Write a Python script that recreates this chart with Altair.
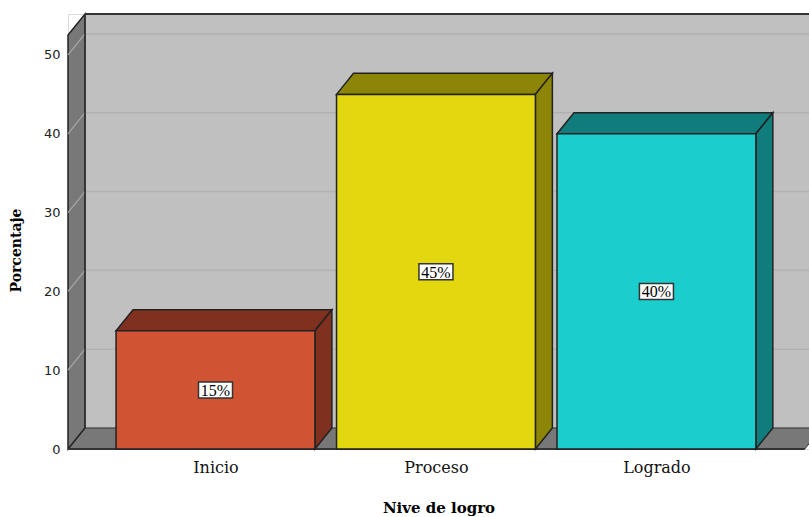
import altair as alt
import pandas as pd

# ---- data ----
categories = ["Inicio", "Proceso", "Logrado"]
values = [15, 45, 40]
labels = ["15%", "45%", "40%"]
front_colors = ["#D05434", "#E3D810", "#1CCDCD"]
side_colors = ["#80301F", "#8C8508", "#117C7C"]
y_ticks = [0, 10, 20, 30, 40, 50]

# ---- geometry (scale units) ----
X_MIN, X_MAX = -0.669, 2.692
Y_MAX = 55.2
HALF = 0.451
DX = 0.077
DY = 2.67
FLOOR_END = 2.673

xs = alt.Scale(domain=[X_MIN, X_MAX], nice=False, zero=False)
ys = alt.Scale(domain=[0, Y_MAX], nice=False, zero=False)

label_expr = "[" + ",".join("'" + c + "'" for c in categories) + "][datum.value]"
x_axis = alt.Axis(values=[0, 1, 2], labelExpr=label_expr, title="Nive de logro")
y_axis = alt.Axis(values=y_ticks, title="Porcentaje")

bars = pd.DataFrame({
    "cat": categories,
    "idx": list(range(len(categories))),
    "value": values,
    "label": labels,
    "front": front_colors,
    "dark": side_colors,
})
bars["x0"] = bars["idx"] - HALF
bars["x1"] = bars["idx"] + HALF
bars["mid"] = bars["value"] / 2

faces = []
for _, r in bars.iterrows():
    v = r["value"]
    x0, x1 = r["x0"], r["x1"]
    for (x, lo, hi) in [(x0, v, v), (x0 + DX, v, v + DY), (x1, v, v + DY), (x1 + DX, v + DY, v + DY)]:
        faces.append({"face": r["cat"] + "-top", "dark": r["dark"], "x": x, "lo": lo, "hi": hi})
    for (x, lo, hi) in [(x1, 0, v), (x1 + DX, DY, v + DY)]:
        faces.append({"face": r["cat"] + "-side", "dark": r["dark"], "x": x, "lo": lo, "hi": hi})
faces = pd.DataFrame(faces)

left_wall = pd.DataFrame({"x": [X_MIN, X_MIN + DX], "lo": [0, DY], "hi": [Y_MAX - DY, Y_MAX]})
floor = pd.DataFrame({"x": [X_MIN, X_MIN + DX, FLOOR_END, FLOOR_END + DX],
                      "lo": [0, 0, 0, DY], "hi": [0, DY, DY, DY]})
back = pd.DataFrame({"x": [X_MIN + DX], "x2": [X_MAX], "y": [DY], "y2": [Y_MAX]})

grid = pd.DataFrame({"t": y_ticks[1:]})
grid["tb"] = grid["t"] + DY
grid["xa"] = X_MIN
grid["xb"] = X_MIN + DX
grid["xe"] = X_MAX

edges_h = pd.DataFrame({"x": [X_MIN + DX, X_MIN], "x2": [X_MAX, FLOOR_END], "y": [Y_MAX, 0]})
edges_v = pd.DataFrame({"x": [X_MIN + DX], "y": [DY], "y2": [Y_MAX]})


def X(f):
    return alt.X(f, scale=xs, axis=x_axis)


def Y(f):
    return alt.Y(f, scale=ys, axis=y_axis, stack=None)


back_layer = alt.Chart(back).mark_rect(color="#C0C0C0").encode(
    x=X("x:Q"), x2="x2:Q", y=Y("y:Q"), y2="y2:Q",
)

back_grid = alt.Chart(grid).mark_rule(color="#B2B2B2", strokeWidth=1.5).encode(
    x=X("xb:Q"), x2="xe:Q", y=Y("tb:Q"),
)

floor_layer = alt.Chart(floor).mark_area(color="#787878", stroke="#333", strokeWidth=1,
                                         clip=True, interpolate="linear").encode(
    x=X("x:Q"), y=Y("lo:Q"), y2="hi:Q",
)

wall_layer = alt.Chart(left_wall).mark_area(color="#787878", stroke="#222", strokeWidth=1.5,
                                            interpolate="linear").encode(
    x=X("x:Q"), y=Y("lo:Q"), y2="hi:Q",
)

wall_grid = alt.Chart(grid).mark_rule(color="#A8A8A8", strokeWidth=1.2).encode(
    x=X("xa:Q"), x2="xb:Q", y=Y("t:Q"), y2="tb:Q",
)

edge_h = alt.Chart(edges_h).mark_rule(color="#333", strokeWidth=2).encode(
    x=X("x:Q"), x2="x2:Q", y=Y("y:Q"),
)
edge_v = alt.Chart(edges_v).mark_rule(color="#333", strokeWidth=1.5).encode(
    x=X("x:Q"), y=Y("y:Q"), y2="y2:Q",
)

face_layer = alt.Chart(faces).mark_area(strokeWidth=1.5, stroke="#222",
                                        interpolate="linear").encode(
    x=X("x:Q"), y=Y("lo:Q"), y2="hi:Q",
    color=alt.Color("dark:N", scale=None),
    detail="face:N",
)

front_layer = alt.Chart(bars).mark_rect(stroke="#222", strokeWidth=1.5).encode(
    x=X("x0:Q"), x2="x1:Q", y=Y("value:Q"), y2=alt.datum(0),
    color=alt.Color("front:N", scale=None),
)

box_layer = alt.Chart(bars).mark_rect(fill="white", stroke="#333", strokeWidth=1.5,
                                      xOffset=-17, x2Offset=17, yOffset=-8, y2Offset=8).encode(
    x=X("idx:Q"), x2="idx:Q", y=Y("mid:Q"), y2="mid:Q",
)

text_layer = alt.Chart(bars).mark_text(font="Liberation Serif", fontSize=16, color="#000",
                                       baseline="middle", align="center", dy=1).encode(
    x=X("idx:Q"), y=Y("mid:Q"), text="label:N",
)

chart = alt.layer(
    back_layer, back_grid, floor_layer, wall_layer, wall_grid, edge_h, edge_v,
    face_layer, front_layer, box_layer, text_layer,
).properties(
    width=741, height=435,
    autosize=alt.AutoSizeParams(type="none"),
    padding={"left": 68, "top": 14, "right": 0, "bottom": 68},
).configure_view(stroke=None).configure(background="white").configure_axisX(
    domain=False, ticks=False, grid=False, labelFont="DejaVu Serif", labelFontSize=16,
    labelColor="#111", labelPadding=10, titleFont="DejaVu Serif", titleFontSize=15,
    titleFontWeight="bold", titleColor="#000", titlePadding=25,
).configure_axisY(
    domain=False, ticks=False, grid=False,
    labelFont="DejaVu Sans", labelFontSize=13, labelColor="#222", labelPadding=8,
    titleFont="DejaVu Serif", titleFontSize=14, titleFontWeight="bold",
    titleColor="#000", titlePadding=20, titleY=236,
)

chart.save("out.html", embed_options={"renderer": "svg", "actions": False})
